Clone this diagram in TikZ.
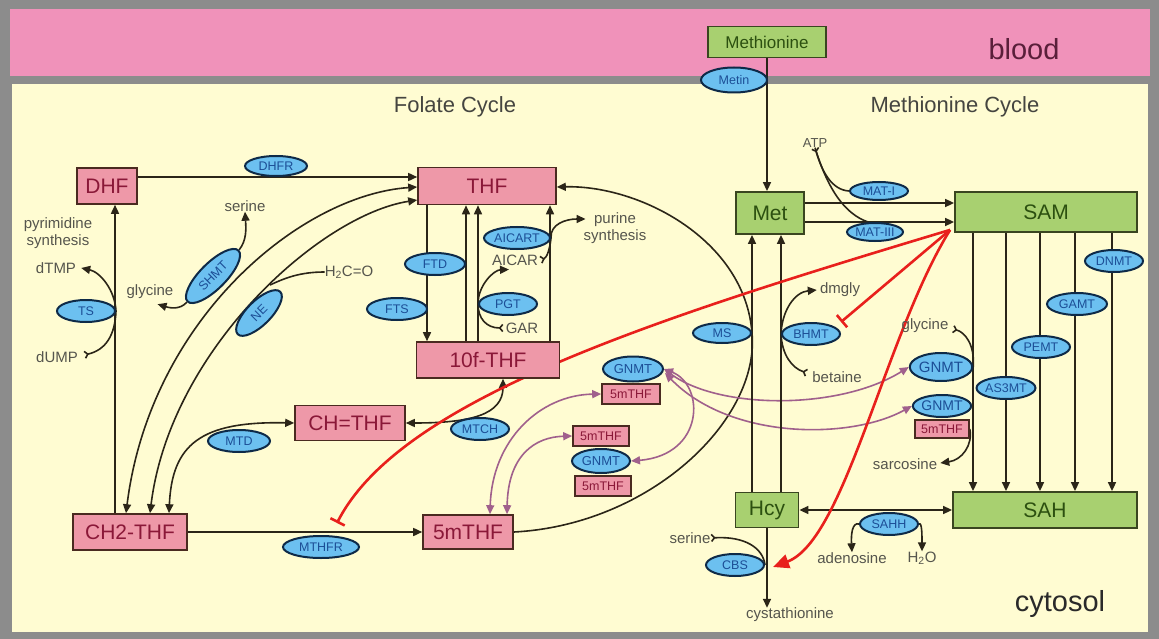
\documentclass[tikz,border=0pt]{standalone}
\usepackage{fontspec}
\setmainfont{Liberation Sans}
\usetikzlibrary{arrows.meta,shapes.geometric,calc}
\pgfdeclarelayer{bglayer}
\pgfdeclarelayer{edgelayer}
\pgfsetlayers{bglayer,edgelayer,main}
\definecolor{framegray}{HTML}{8C8C8C}
\definecolor{pinkband}{HTML}{F092BA}
\definecolor{yellowbg}{HTML}{FFFCD2}
\definecolor{pinkbox}{HTML}{EE98A8}
\definecolor{pinkborder}{HTML}{4A2A20}
\definecolor{pinktext}{HTML}{8A1838}
\definecolor{greenbox}{HTML}{A8D070}
\definecolor{greenborder}{HTML}{3A4520}
\definecolor{greentext}{HTML}{2C5010}
\definecolor{ellfill}{HTML}{6CC0F0}
\definecolor{ellborder}{HTML}{0E2A48}
\definecolor{elltext}{HTML}{1C4E96}
\definecolor{linecol}{HTML}{2B2518}
\definecolor{purp}{HTML}{A0608C}
\definecolor{redc}{HTML}{E8201C}
\definecolor{lblcol}{HTML}{55554D}
\definecolor{seccol}{HTML}{454540}
\definecolor{bloodc}{HTML}{5A1F3A}
\definecolor{cytoc}{HTML}{2A2A2A}
\tikzset{
 pbox/.style={rectangle,draw=pinkborder,fill=pinkbox,line width=1.6pt,text=pinktext,inner sep=0pt,font=\fontsize{21}{24}\selectfont},
 spbox/.style={pbox,font=\fontsize{12.5}{14}\selectfont},
 gbox/.style={rectangle,draw=greenborder,fill=greenbox,line width=1.8pt,text=greentext,inner sep=0pt,font=\fontsize{21}{24}\selectfont},
 enz/.style={ellipse,draw=ellborder,fill=ellfill,line width=2pt,text=elltext,inner sep=0pt,font=\fontsize{12.5}{14}\selectfont},
 lbl/.style={text=lblcol,inner sep=0pt,font=\fontsize{15}{17}\selectfont},
 sec/.style={text=seccol,inner sep=0pt,font=\fontsize{22}{25}\selectfont},
 conn/.style={draw=linecol,line width=1.6pt},
 arr/.style={conn,-{Triangle[length=9pt,width=8pt]}},
 darr/.style={conn,{Triangle[length=9pt,width=8pt]}-{Triangle[length=9pt,width=8pt]}},
 subtailarr/.style={conn,{Straight Barb[reversed,length=3pt,width=7pt]}-{Triangle[length=9pt,width=8pt]}},
 subtail/.style={conn,-{Straight Barb[reversed,length=3pt,width=7pt]}},
 substart/.style={conn,{Straight Barb[reversed,length=3pt,width=7pt]}-},
 parr/.style={draw=purp,line width=1.6pt,{Triangle[length=9pt,width=8pt]}-{Triangle[length=9pt,width=8pt]}},
 inh/.style={draw=redc,line width=2.6pt,-{Bar[width=16pt,line width=2.6pt]}},
 redarr/.style={draw=redc,line width=2.6pt,-{Triangle[length=16pt,width=14pt]}},
}
\begin{document}
\begin{tikzpicture}[x=1pt,y=-1pt]
\useasboundingbox (0,0) rectangle (1159,639);
\begin{pgfonlayer}{bglayer}
\fill[framegray] (0,0) rectangle (1159,639);
\fill[pinkband] (10,9) rectangle (1150,76);
\fill[yellowbg] (12,84) rectangle (1148,632);
\end{pgfonlayer}

% titles
\node[font=\fontsize{29}{32}\selectfont,text=bloodc] (blood) at (1024,49) {blood};
\node[font=\fontsize{29}{32}\selectfont,text=cytoc] (cytosol) at (1060,604) {cytosol};
\node[sec] (folate) at (455,107) {Folate Cycle};
\node[sec] (metcyc) at (955,107) {Methionine Cycle};

% boxes
\node[gbox,minimum width=118pt,minimum height=31pt,font=\fontsize{17}{20}\selectfont] (methionine) at (767,42) {Methionine};
\node[pbox,minimum width=60pt,minimum height=36pt] (dhf) at (107,186) {DHF};
\node[pbox,minimum width=138pt,minimum height=37pt] (thf) at (487,186) {THF};
\node[pbox,minimum width=143pt,minimum height=36pt] (f10) at (488,360) {10f-THF};
\node[pbox,minimum width=110pt,minimum height=35pt] (chthf) at (350,423) {CH=THF};
\node[pbox,minimum width=114pt,minimum height=36pt] (ch2) at (130,532) {CH2-THF};
\node[pbox,minimum width=90pt,minimum height=34pt] (mthf) at (468,532) {5mTHF};
\node[gbox,minimum width=68pt,minimum height=42pt] (met) at (770,213) {Met};
\node[gbox,minimum width=182pt,minimum height=40pt] (sam) at (1046,212) {SAM};
\node[gbox,minimum width=63pt,minimum height=35pt] (hcy) at (767,510) {Hcy};
\node[gbox,minimum width=184pt,minimum height=36pt] (sah) at (1045,510) {SAH};
\node[spbox,minimum width=58pt,minimum height=20pt] (m5a) at (631,394) {5mTHF};
\node[spbox,minimum width=56pt,minimum height=20pt] (m5b) at (601,436) {5mTHF};
\node[spbox,minimum width=56pt,minimum height=20pt] (m5c) at (603,486) {5mTHF};
\node[spbox,minimum width=54pt,minimum height=18pt] (m5r) at (942,429) {5mTHF};

% enzymes
\node[enz,minimum width=66pt,minimum height=25pt] (metin) at (734,80) {Metin};
\node[enz,minimum width=62pt,minimum height=20pt] (dhfr) at (276,166) {DHFR};
\node[enz,minimum width=72pt,minimum height=26pt,rotate=45] (shmt) at (213,276) {SHMT};
\node[enz,minimum width=60pt,minimum height=24pt,rotate=45] (ne) at (259,313) {NE};
\node[enz,minimum width=58pt,minimum height=22pt] (ts) at (86,311) {TS};
\node[enz,minimum width=62pt,minimum height=22pt] (mtd) at (239,441) {MTD};
\node[enz,minimum width=76pt,minimum height=22pt] (mthfr) at (321,547) {MTHFR};
\node[enz,minimum width=58pt,minimum height=22pt] (mtch) at (480,429) {MTCH};
\node[enz,minimum width=60pt,minimum height=22pt] (ftd) at (435,264) {FTD};
\node[enz,minimum width=60pt,minimum height=22pt] (fts) at (397,309) {FTS};
\node[enz,minimum width=66pt,minimum height=22pt] (aicart) at (517,238) {AICART};
\node[enz,minimum width=58pt,minimum height=22pt] (pgt) at (508,304) {PGT};
\node[enz,minimum width=58pt,minimum height=20pt] (ms) at (722,333) {MS};
\node[enz,minimum width=58pt,minimum height=22pt] (bhmt) at (811,334) {BHMT};
\node[enz,minimum width=58pt,minimum height=18pt] (mat1) at (879,191) {MAT-I};
\node[enz,minimum width=56pt,minimum height=18pt] (mat3) at (875,232) {MAT-III};
\node[enz,minimum width=58pt,minimum height=22pt] (dnmt) at (1114,261) {DNMT};
\node[enz,minimum width=60pt,minimum height=22pt] (gamt) at (1077,304) {GAMT};
\node[enz,minimum width=58pt,minimum height=22pt] (pemt) at (1041,347) {PEMT};
\node[enz,minimum width=58pt,minimum height=22pt] (as3mt) at (1006,388) {AS3MT};
\node[enz,minimum width=62pt,minimum height=28pt,font=\fontsize{15}{17}\selectfont] (gnmtR1) at (941,367) {GNMT};
\node[enz,minimum width=56pt,minimum height=22pt,font=\fontsize{14}{16}\selectfont] (gnmtR2) at (942,406) {GNMT};
\node[enz,minimum width=60pt,minimum height=25pt,font=\fontsize{13}{15}\selectfont] (gnmtA) at (633,369) {GNMT};
\node[enz,minimum width=58pt,minimum height=24pt,font=\fontsize{13}{15}\selectfont] (gnmtB) at (601,461) {GNMT};
\node[enz,minimum width=58pt,minimum height=22pt] (sahh) at (889,524) {SAHH};
\node[enz,minimum width=58pt,minimum height=22pt] (cbs) at (735,565) {CBS};

% labels
\node[lbl] (serL) at (245,206) {serine};
\node[lbl] (glyL) at (150,292) {glycine};
\node[lbl,align=center] (pyr) at (58,233) {pyrimidine\\synthesis};
\node[lbl] (dtmp) at (56,268) {dTMP};
\node[lbl] (dump) at (57,357) {dUMP};
\node[lbl] (h2co) at (349,272) {H\textsubscript{2}C=O};
\node[lbl,align=center] (purine) at (615,228) {purine\\synthesis};
\node[lbl] (aicar) at (515,260) {AICAR};
\node[lbl] (gar) at (522,328) {GAR};
\node[lbl,font=\fontsize{13}{15}\selectfont] (atp) at (815,143) {ATP};
\node[lbl] (dmgly) at (840,290) {dmgly};
\node[lbl] (betaine) at (837,377) {betaine};
\node[lbl] (glyR) at (925,326) {glycine};
\node[lbl] (sarc) at (905,464) {sarcosine};
\node[lbl] (serC) at (690,538) {serine};
\node[lbl] (aden) at (852,558) {adenosine};
\node[lbl] (h2o) at (922,558) {H\textsubscript{2}O};
\node[lbl] (cysta) at (790,615) {cystathionine};

\coordinate (c2j) at (270,285);
\coordinate (matj) at (868,222);

\begin{pgfonlayer}{edgelayer}
\draw[arr] (methionine.south) -- (methionine.south |- met.north);
\draw[arr] ($(dhf.east)+(0,-9)$) -- ($(thf.west)+(0,-9)$);
\draw[arr] (115,0 |- ch2.north) -- (115,0 |- dhf.south);
\draw[subtailarr] ($(dump.east)+(6,-2)$) .. controls (106,350) and (115,335) .. (ts.east) .. controls (115,290) and (100,272) .. ($(dtmp.east)+(5,0)$);
\draw[darr] ($(thf.west)+(0,1)$) .. controls (300,195) and (150,320) .. (126,0 |- ch2.north);
\draw[darr] ($(thf.west)+(0,14)$) .. controls (320,215) and (170,350) .. (150,0 |- ch2.north);
\draw[arr] (shmt.east) .. controls (247,240) and (246,228) .. (serL.south);
\draw[arr] (shmt.west) .. controls (180,310) and (170,308) .. ($(glyL.south east)+(-16,5)$);
\draw[conn] (h2co.west) .. controls (300,272) and (285,278) .. (c2j);
\draw[darr] (169,0 |- ch2.north) .. controls (172,445) and (200,421) .. (chthf.west);
\draw[darr] ($(f10.south)+(15,0)$) .. controls (503,415) and (470,423) .. (chthf.east);
\draw[arr] (ch2.east) -- (mthf.west);
\draw[arr] (427,0 |- thf.south) -- (427,0 |- f10.north);
\draw[arr] (466,0 |- f10.north) -- (466,0 |- thf.south);
\draw[arr] (478,0 |- f10.north) -- (478,0 |- thf.south);
\draw[arr] (550,0 |- f10.north) -- (550,0 |- thf.south);
\draw[subtailarr] ($(aicar.east)+(2,0)$) .. controls (547,258) and (550,248) .. (aicart.east) .. controls (550,224) and (566,219) .. ($(purine.west)+(2,-9)$);
\draw[subtailarr] ($(gar.west)+(-2,0)$) .. controls (486,328) and (478,318) .. (pgt.west) .. controls (478,285) and (494,270) .. ($(aicar.south)+(-6,4)$);
\draw[arr] (mthf.east) .. controls (650,525) and (760,420) .. (ms.east) .. controls (745,240) and (640,185) .. ($(thf.east)+(0,1)$);
\draw[parr] ($(mthf.north)+(22,0)$) .. controls (492,440) and (540,395) .. (m5a.west);
\draw[parr] ($(mthf.north)+(39,0)$) .. controls (508,455) and (535,437) .. (m5b.west);
\draw[parr] (gnmtA.east) .. controls (705,385) and (705,455) .. (gnmtB.east);
\draw[parr] (gnmtA.east) .. controls (720,410) and (840,410) .. (gnmtR1.west);
\draw[parr] ($(gnmtA.east)+(1,4)$) .. controls (730,440) and (850,440) .. (gnmtR2.west);
\draw[arr] (752,0 |- hcy.north) -- (752,0 |- met.south);
\draw[arr] (781,0 |- hcy.north) -- (781,0 |- met.south);
\draw[arr] (bhmt.west) .. controls (782,310) and (795,292) .. ($(dmgly.west)+(-3,0)$);
\draw[subtail] (bhmt.west) .. controls (782,355) and (792,368) .. ($(betaine.west)+(-5,-4)$);
\draw[arr] ($(met.east)+(0,-10)$) -- ($(sam.west)+(0,-9)$);
\draw[arr] ($(met.east)+(0,9)$) -- ($(sam.west)+(0,10)$);
\draw[substart] (atp.south) .. controls (822,172) and (832,190) .. (mat1.west);
\draw[conn] (atp.south) .. controls (828,190) and (845,214) .. (matj);
\foreach \xx in {973,1006,1040,1075,1112} \draw[arr] (\xx,0 |- sam.south) -- (\xx,0 |- sah.north);
\draw[subtail] (gnmtR1.east) .. controls (975,345) and (965,332) .. ($(glyR.east)+(4,3)$);
\draw[arr] (m5r.east) .. controls (973,445) and (962,460) .. ($(sarc.east)+(3,-1)$);
\draw[darr] (hcy.east) -- (sah.west);
\draw[arr] (sahh.west) .. controls (852,522) and (851,535) .. (aden.north);
\draw[arr] (sahh.east) .. controls (922,522) and (922,535) .. (h2o.north);
\draw[arr] (hcy.south) -- (hcy.south |- cysta.north);
\draw[substart] (serC.east) .. controls (745,536) and (763,548) .. (cbs.east);
\draw[inh] ($(sam.south west)+(-4,-3)$) .. controls (650,320) and (400,400) .. ($(mthfr.north)+(16,-12)$);
\draw[inh] ($(sam.south west)+(-4,-3)$) -- ($(bhmt.east)+(0,-12)$);
\draw[redarr] ($(sam.south west)+(-4,-3)$) .. controls (885,335) and (845,540) .. ($(cbs.east)+(8,2)$);
\end{pgfonlayer}
\end{tikzpicture}
\end{document}
